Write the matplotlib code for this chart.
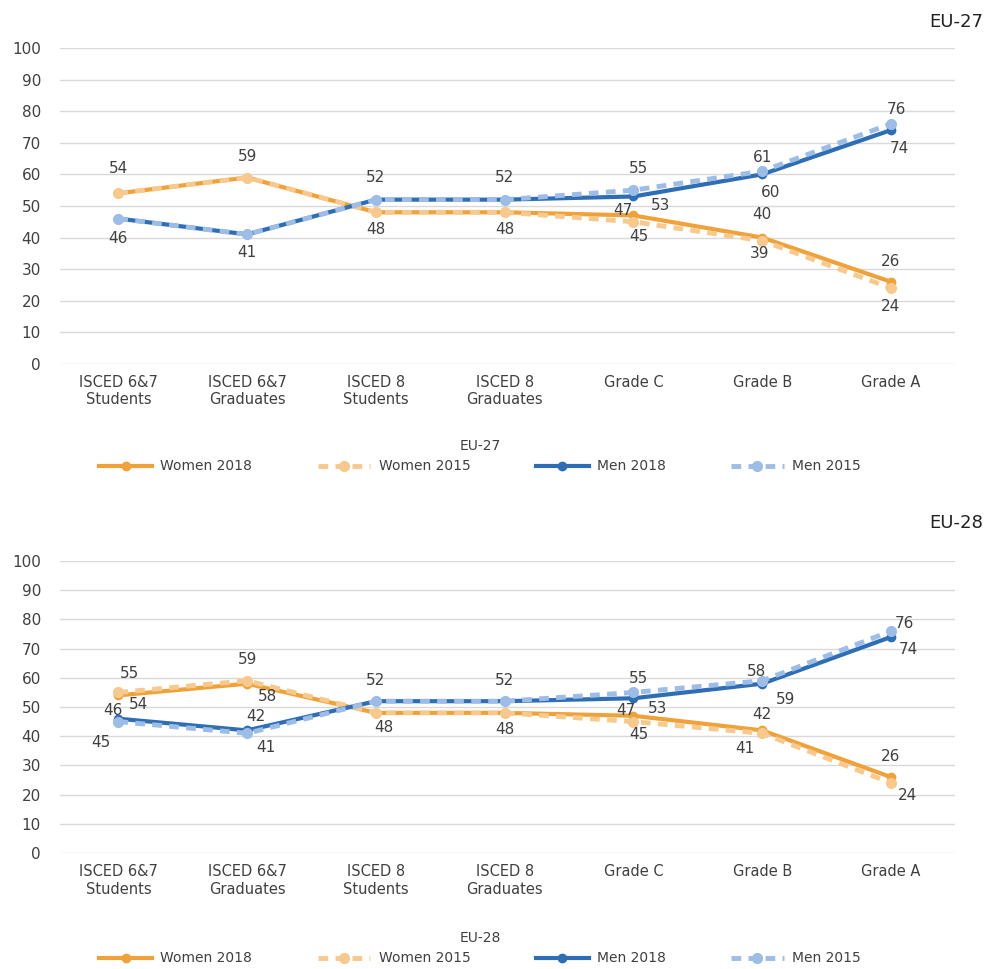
import matplotlib.pyplot as plt
import numpy as np

plt.rcParams['font.family'] = ['DejaVu Sans']

categories = ["ISCED 6&7\nStudents", "ISCED 6&7\nGraduates", "ISCED 8\nStudents",
              "ISCED 8\nGraduates", "Grade C", "Grade B", "Grade A"]

# EU-27
eu27_women_2018 = [54, 59, 48, 48, 47, 40, 26]
eu27_women_2015 = [54, 59, 48, 48, 45, 39, 24]
eu27_men_2018 = [46, 41, 52, 52, 53, 60, 74]
eu27_men_2015 = [46, 41, 52, 52, 55, 61, 76]

# EU-28
eu28_women_2018 = [54, 58, 48, 48, 47, 42, 26]
eu28_women_2015 = [55, 59, 48, 48, 45, 41, 24]
eu28_men_2018 = [46, 42, 52, 52, 53, 58, 74]
eu28_men_2015 = [45, 41, 52, 52, 55, 59, 76]

c_w18 = '#F0A23A'
c_w15 = '#F7C98E'
c_m18 = '#2F6EB5'
c_m15 = '#9DBCE6'
txt = '#404040'

# label offsets in pixels (dx, dy), None = no label
top_offsets = {
    'w18': [None, None, None, None, (-11, 5), (0, 23), (0, 20)],
    'w15': [(0, 25), (0, 21), (0, -17), (0, -17), (5, -15), (-3, -13), (0, -18)],
    'm18': [(0, -20), (0, -18), None, None, (27, -9), (8, -18), (8, -18)],
    'm15': [None, None, (0, 22), (0, 22), (5, 22), (0, 14), (5, 14)],
}
bot_offsets = {
    'w18': [(20, -9), (20, -13), None, None, (-8, 5), (0, 16), (0, 21)],
    'w15': [(11, 19), (0, 21), (8, -15), (0, -17), (5, -13), (-17, -15), (17, -13)],
    'm18': [(-5, 8), (9, 14), None, None, (24, -10), (-6, 12), (17, -13)],
    'm15': [(-17, -21), (19, -14), (0, 21), (0, 21), (5, 14), (23, -19), (13, 8)],
}


def draw(ax, w18, w15, m18, m15, offsets):
    x = np.arange(len(categories))
    ax.plot(x, w18, color=c_w18, lw=3, marker='o', ms=6, label='Women 2018', zorder=3)
    ax.plot(x, w15, color=c_w15, lw=3.5, ls=(0, (2, 1.5)), marker='o', ms=7,
            label='Women 2015', zorder=4)
    ax.plot(x, m18, color=c_m18, lw=3, marker='o', ms=6, label='Men 2018', zorder=5)
    ax.plot(x, m15, color=c_m15, lw=3.5, ls=(0, (2, 1.5)), marker='o', ms=7,
            label='Men 2015', zorder=6)
    for key, vals in zip(['w18', 'w15', 'm18', 'm15'], [w18, w15, m18, m15]):
        for i, v in enumerate(vals):
            off = offsets[key][i]
            if off is None:
                continue
            ax.annotate(str(v), (x[i], v), xytext=off, textcoords='offset pixels',
                        ha='center', va='center', fontsize=11, color=txt, zorder=10)
    ax.set_ylim(0, 100)
    ax.set_yticks(range(0, 101, 10))
    ax.set_xlim(-0.45, 6.5)
    ax.set_xticks(x)
    ax.set_xticklabels(categories, fontsize=10.5, color=txt)
    ax.tick_params(axis='y', labelsize=11, labelcolor=txt, length=0, pad=14)
    ax.tick_params(axis='x', length=0, pad=8)
    ax.grid(axis='y', color='#D9D9D9', lw=1)
    ax.set_axisbelow(True)
    for s in ax.spines.values():
        s.set_visible(False)


fig = plt.figure(figsize=(9.9, 9.69), dpi=100)
ax1 = fig.add_axes([0.061, 0.6244, 0.904, 0.3261])
ax2 = fig.add_axes([0.061, 0.1197, 0.904, 0.3013])

draw(ax1, eu27_women_2018, eu27_women_2015, eu27_men_2018, eu27_men_2015, top_offsets)
draw(ax2, eu28_women_2018, eu28_women_2015, eu28_men_2018, eu28_men_2015, bot_offsets)

fig.text(0.993, 1 - 22 / 969, 'EU-27', ha='right', va='center', fontsize=13,
         color='#222222', weight='medium')
fig.text(0.993, 1 - 523 / 969, 'EU-28', ha='right', va='center', fontsize=13,
         color='#222222', weight='medium')

for ax, title, ypix in [(ax1, 'EU-27', 433), (ax2, 'EU-28', 925)]:
    h, l = ax.get_legend_handles_labels()
    leg = fig.legend(h, l, loc='upper center', bbox_to_anchor=(0.485, 1 - ypix / 969),
                     ncol=4, frameon=False, title=title, fontsize=10,
                     title_fontsize=10, handlelength=3.8, columnspacing=4.7,
                     handletextpad=0.6, borderaxespad=0)
    leg.get_title().set_color(txt)
    for t in leg.get_texts():
        t.set_color(txt)

fig.savefig('out.png', dpi=100)
